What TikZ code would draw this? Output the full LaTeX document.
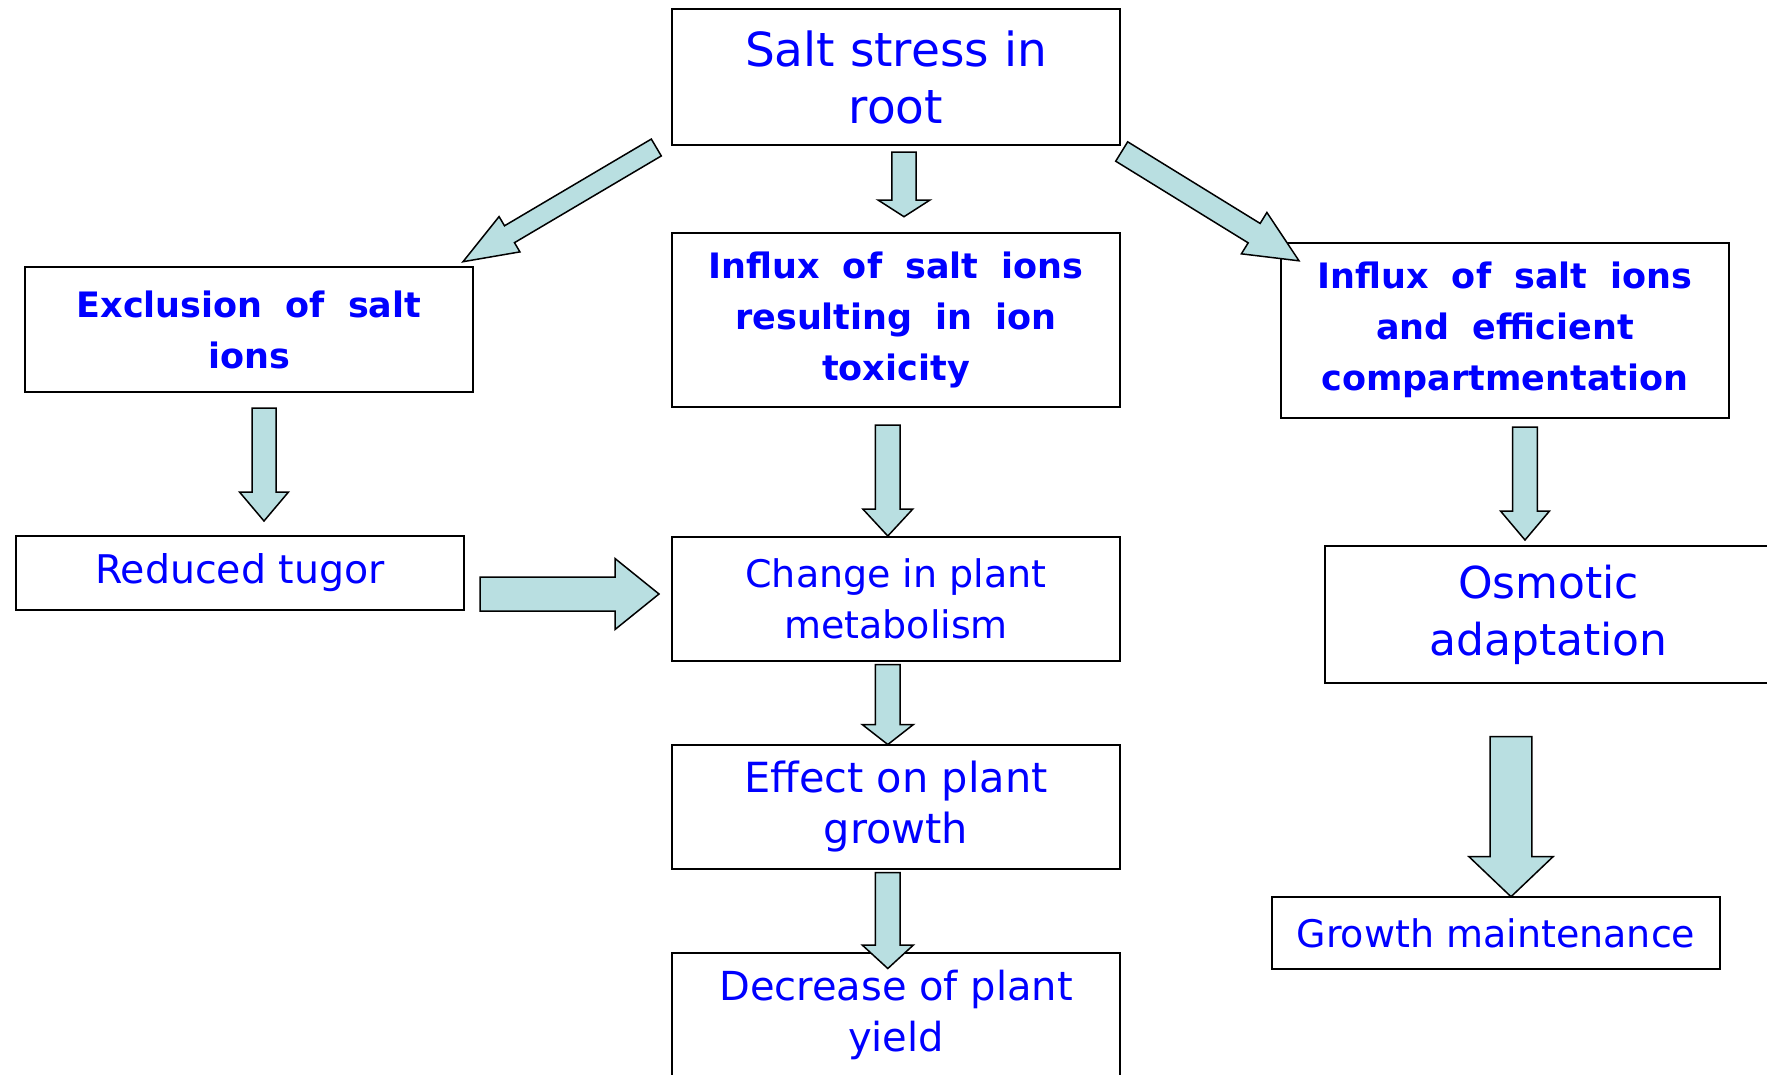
\documentclass[tikz,border=0pt]{standalone}
\usepackage{fontspec}
\setmainfont{DejaVu Sans}
\newfontfamily\boldfam[WordSpace=1.9]{DejaVu Sans}
\usetikzlibrary{calc}
\definecolor{txtblue}{RGB}{0,0,255}
\definecolor{arrfill}{RGB}{185,223,225}
\newcommand\blockarrow[5]{%
  \coordinate (hb) at ($(#2)!#5!(#1)$);
  \draw[barrow] ($(#1)!#3!90:(#2)$) -- ($(hb)!#3!90:(#2)$) -- ($(hb)!#4!90:(#2)$)
     -- (#2) -- ($(hb)!#4!-90:(#2)$) -- ($(hb)!#3!-90:(#2)$) -- ($(#1)!#3!-90:(#2)$) -- cycle;
}
\tikzset{
  box/.style={draw=black, line width=2pt, fill=white, minimum width=448pt, inner sep=0pt,
    align=center, text=txtblue, font=\fontsize{38}{51}\selectfont},
  bigbox/.style={box, font=\fontsize{44}{57}\selectfont},
  boldbox/.style={box, font=\boldfam\bfseries\fontsize{35}{51}\selectfont},
  barrow/.style={draw=black, line width=1.5pt, fill=arrfill, line join=miter},
}
\begin{document}
\begin{tikzpicture}[x=1pt, y=-1pt]
\useasboundingbox (0,0) rectangle (1767,1074);
\clip (0,0) rectangle (1767,1074);
\fill[white] (0,0) rectangle (1767,1074);
% boxes
\node[bigbox, minimum height=136.5pt, font=\fontsize{47}{57}\selectfont] (root) at (896,77) {Salt stress in\\root};
\node[boldbox, minimum height=125pt] (excl) at (249,329.5) {Exclusion of salt\\ions};
\node[boldbox, minimum height=174pt] (tox) at (896,320) {Influx of salt ions\\resulting in ion\\toxicity};
\node[boldbox, minimum height=175pt] (comp) at (1505,330) {Influx of salt ions\\and efficient\\compartmentation};
\node[box, minimum height=74pt, font=\fontsize{39.5}{51}\selectfont] (tugor) at (240,573) {Reduced tugor};
\node[box, minimum height=124.5pt] (change) at (896,599) {Change in plant\\metabolism};
\node[bigbox, minimum height=137pt] (osm) at (1548.6,614.5) {Osmotic\\adaptation};
\node[box, minimum height=124.5pt, font=\fontsize{41.5}{51}\selectfont] (effect) at (896,807) {Effect on plant\\growth};
\node[box, minimum height=124.5pt, font=\fontsize{40}{51}\selectfont] (decr) at (896,1015) {Decrease of plant\\yield};
\node[box, minimum height=72.6pt] (growth) at (1496,933) {Growth maintenance};
% arrow end points
\coordinate (a1s) at (904,152);     \coordinate (a1e) at (904,216.7);
\coordinate (a2s) at (656.3,147.5); \coordinate (a2e) at (463,261.7);
\coordinate (a3s) at (1121.7,151.5);\coordinate (a3e) at (1299,260.8);
\coordinate (a4s) at (264,408);     \coordinate (a4e) at (264,521);
\coordinate (a5s) at (887.8,425);   \coordinate (a5e) at (887.8,536);
\coordinate (a6s) at (1525,427);    \coordinate (a6e) at (1525,540);
\coordinate (a7s) at (480,594);     \coordinate (a7e) at (659,594);
\coordinate (a8s) at (887.8,664.7); \coordinate (a8e) at (887.8,744.5);
\coordinate (a9s) at (887.8,872.6); \coordinate (a9e) at (887.8,968.5);
\coordinate (a10s) at (1511,736.7); \coordinate (a10e) at (1511,896.7);
% arrows
\blockarrow{a1s}{a1e}{12.2pt}{26pt}{16.7pt}
\blockarrow{a2s}{a2e}{9.8pt}{20.5pt}{54pt}
\blockarrow{a3s}{a3e}{11.4pt}{24.3pt}{52.7pt}
\blockarrow{a4s}{a4e}{12pt}{24.5pt}{29pt}
\blockarrow{a5s}{a5e}{12.4pt}{25pt}{27pt}
\blockarrow{a6s}{a6e}{12.4pt}{24.5pt}{29pt}
\blockarrow{a7s}{a7e}{17pt}{35.5pt}{44pt}
\blockarrow{a8s}{a8e}{12.4pt}{25.6pt}{20pt}
\blockarrow{a9s}{a9e}{12.4pt}{25.6pt}{23.5pt}
\blockarrow{a10s}{a10e}{20.8pt}{42pt}{40pt}
\end{tikzpicture}
\end{document}
